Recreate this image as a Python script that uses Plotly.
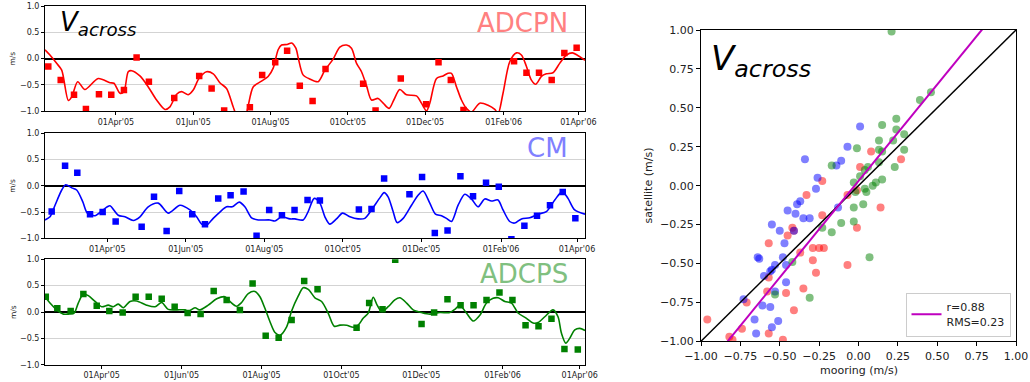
import pandas as pd
import plotly.graph_objects as go

# ---------------- data ----------------
# time in days since 2005-04-01
BASE = pd.Timestamp("2005-04-01")

adcpn_sat_days = [-53.4, -43.6, -33.1, -23.7, -13.4, -3.7, 6.3, 16.3, 26.0, 46.0, 65.7, 75.5, 85.4,
                  105.7, 115.4, 125.7, 135.1, 145.1, 155.2, 165.4, 195.1, 204.9, 224.8, 244.8, 254.6,
                  264.3, 274.3, 314.2, 324.0, 333.9, 343.9, 353.9, 363.6]
adcpn_sat_vals = [-0.15, -0.41, -0.69, -0.96, -0.68, -0.69, -0.60, 0.02, -0.44, -0.75, -0.33, -0.57, -0.99,
                  -0.93, -0.31, -0.07, 0.15, -0.52, -0.81, -0.20, -0.48, -0.99, -0.38, -0.87, -0.07,
                  -0.41, -0.98, -0.05, -0.27, -0.27, -0.41, 0.11, 0.21]
adcpn_moor_days = [-56.0, -52.1, -46.8, -42.8, -37.6, -34.9, -30.2, -24.5, -14.0, -4.7, -1.6, 3.2, 6.3,
                   9.7, 12.4, 18.9, 25.5, 32.1, 38.7, 42.6, 47.9, 51.8, 57.0, 61.0, 65.5, 71.5, 76.8,
                   82.0, 87.3, 92.5, 95.4, 99.4, 103.1, 108.3, 114.9, 120.1, 124.1, 128.0, 130.7, 135.1,
                   138.6, 142.0, 144.0, 147.7, 153.0, 159.6, 164.9, 171.4, 176.7, 182.0, 185.9, 189.9,
                   193.8, 197.8, 201.7, 206.9, 210.9, 215.6, 219.3, 224.0, 229.3, 237.2, 241.1, 245.1,
                   247.7, 253.0, 258.2, 262.1, 264.8, 268.8, 272.7, 276.6, 280.6, 287.1, 293.7, 299.0,
                   301.6, 305.5, 310.8, 316.1, 320.0, 324.0, 327.9, 331.3, 335.8, 339.7, 344.9, 350.2,
                   355.5, 360.3, 363.9, 370.2]
adcpn_moor_vals = [0.17, 0.07, -0.09, -0.22, -0.80, -0.73, -0.44, -0.59, -0.38, -0.46, -0.47, -0.66, -0.63,
                   -0.25, -0.23, -0.33, -0.54, -0.79, -0.97, -0.92, -0.68, -0.63, -0.69, -0.60, -0.38, -0.25, -0.29,
                   -0.46, -0.57, -0.92, -1.10, -1.20, -1.03, -0.54, -0.43, -0.34, -0.18, 0.17, 0.26, 0.27,
                   0.30, 0.20, 0.00, -0.31, -0.39, -0.44, -0.22, -0.01, 0.22, 0.26, 0.20, -0.09,
                   -0.25, -0.52, -0.79, -0.76, -0.85, -0.95, -0.79, -0.59, -0.69, -0.71, -0.85, -1.00,
                   -0.85, -0.38, -0.33, -0.28, -0.28, -0.54, -0.79, -0.95, -1.02, -0.85, -0.89, -0.97,
                   -1.05, -0.66, -0.06, 0.11, 0.07, -0.15, -0.41, -0.49, -0.34, -0.29, -0.27, -0.09,
                   0.07, 0.11, 0.07, -0.03]

cm_sat_days = [-43.2, -32.8, -23.3, -13.4, -3.6, 6.5, 26.7, 36.3, 46.1, 55.9, 66.0, 75.9, 86.2, 95.8,
               105.9, 116.0, 125.8, 135.7, 145.5, 155.6, 165.2, 195.5, 205.3, 215.1, 234.8, 244.6,
               254.5, 264.4, 274.4, 284.2, 294.3, 304.2, 314.0, 324.1, 333.9, 344.0, 353.9, 363.7]
cm_sat_vals = [-0.49, 0.38, 0.25, -0.54, -0.50, -0.68, -0.78, -0.21, -0.86, -0.10, -0.54, -0.73, -0.24, -0.18,
               -0.11, -0.95, -0.46, -0.56, -0.46, -0.27, -0.28, -0.45, -0.44, 0.14, -0.16, 0.17,
               -0.90, -0.85, 0.18, -0.20, 0.06, -0.02, -1.02, -0.76, -0.57, -0.37, -0.12, -0.62]
cm_moor_days = [-48.4, -44.5, -40.6, -35.4, -32.3, -27.6, -23.8, -19.1, -15.5, -9.6,
                -4.3, 0.0, 2.1, 8.5, 13.7, 20.2, 25.4, 31.8, 39.6, 47.4,
                56.5, 64.2, 69.4, 73.3, 77.2, 82.3, 87.5, 92.7, 97.1, 102.5,
                106.9, 112.1, 117.3, 126.4, 130.2, 135.4, 141.9, 145.8, 152.2, 156.1,
                160.8, 165.2, 169.1, 172.9, 178.1, 182.8, 188.5, 194.9, 200.1, 205.3,
                211.8, 215.1, 218.2, 222.1, 225.2, 229.9, 236.4, 241.5, 245.4, 250.6,
                255.0, 259.7, 263.6, 267.5, 272.6, 277.8, 283.0, 288.1, 293.3, 298.5,
                303.6, 307.5, 312.7, 316.6, 321.8, 328.3, 334.7, 341.2, 347.7, 353.6,
                358.0, 363.2, 371.2]
cm_moor_vals = [-0.65, -0.59, -0.37, -0.08, 0.02, -0.04, -0.08, -0.30, -0.52, -0.57,
                -0.48, -0.40, -0.38, -0.56, -0.59, -0.66, -0.59, -0.40, -0.33, -0.52,
                -0.37, -0.46, -0.59, -0.73, -0.75, -0.62, -0.50, -0.40, -0.40, -0.31,
                -0.40, -0.61, -0.65, -0.65, -0.67, -0.59, -0.63, -0.63, -0.65, -0.49,
                -0.24, -0.33, -0.59, -0.73, -0.63, -0.52, -0.59, -0.63, -0.62, -0.46,
                -0.23, -0.13, -0.21, -0.49, -0.70, -0.62, -0.37, -0.18, -0.10, -0.33,
                -0.54, -0.57, -0.62, -0.68, -0.37, -0.16, -0.25, -0.40, -0.25, -0.29,
                -0.27, -0.46, -0.68, -0.71, -0.63, -0.61, -0.54, -0.49, -0.27, -0.11,
                -0.24, -0.46, -0.54]

adcps_sat_days = [-42.7, -33.9, -23.7, -14.0, -3.8, 5.8, 16.0, 25.9, 35.9, 45.8,
                  55.7, 65.6, 75.5, 85.5, 95.4, 105.5, 115.2, 125.2, 135.1, 145.0,
                  154.6, 164.8, 194.6, 204.2, 214.4, 224.1, 244.2, 253.8, 264.0, 274.0,
                  283.9, 293.8, 303.7, 313.6, 323.6, 333.5, 343.4, 353.3, 363.5]
adcps_sat_vals = [0.29, 0.07, 0.02, 0.34, 0.12, 0.02, -0.01, 0.29, 0.29, 0.25,
                  0.10, -0.02, -0.04, 0.40, 0.23, 0.04, 0.54, -0.45, -0.49, -0.15,
                  0.59, 0.43, -0.30, 0.17, 0.05, 0.99, -0.23, -0.01, 0.24, 0.13,
                  0.13, 0.23, 0.37, 0.23, -0.25, -0.27, -0.13, -0.70, -0.71]
adcps_moor_days = [-43.3, -39.5, -34.3, -29.3, -25.5, -21.1, -17.9, -14.0, -10.2, -5.1,
                   0.0, 5.0, 8.9, 12.7, 16.5, 21.6, 26.7, 34.3, 40.7, 45.8,
                   50.8, 57.2, 63.6, 66.1, 71.2, 75.0, 81.3, 87.8, 94.1, 97.9,
                   103.0, 106.8, 111.9, 117.0, 120.8, 124.6, 128.4, 132.3, 136.1, 141.2,
                   145.0, 150.0, 153.8, 157.7, 162.8, 167.9, 172.9, 177.5, 181.9, 187.0,
                   192.0, 195.8, 199.6, 203.5, 207.3, 210.3, 213.7, 218.7, 223.8, 227.6,
                   232.8, 237.8, 244.2, 250.5, 258.2, 265.8, 269.6, 273.4, 278.5, 283.6,
                   288.7, 293.8, 298.8, 302.7, 307.8, 312.9, 317.9, 324.3, 329.4, 333.2,
                   338.3, 344.6, 348.4, 351.0, 354.3, 357.3, 361.2, 365.0, 369.0]
adcps_moor_vals = [0.29, 0.17, 0.04, -0.04, -0.04, -0.02, 0.17, 0.34, 0.31, 0.20,
                   0.10, 0.13, 0.10, 0.15, 0.08, 0.20, 0.21, 0.13, 0.10, 0.18,
                   0.05, 0.04, 0.04, 0.01, 0.08, 0.04, 0.13, 0.25, 0.29, 0.20,
                   0.11, 0.18, 0.35, 0.39, 0.29, 0.07, -0.18, -0.39, -0.44, -0.28,
                   0.02, 0.30, 0.46, 0.43, 0.27, 0.20, -0.02, -0.27, -0.25, -0.25,
                   -0.29, -0.25, -0.12, -0.02, 0.28, 0.13, 0.01, 0.10, 0.23, 0.27,
                   0.17, 0.04, -0.01, -0.04, -0.01, -0.01, 0.05, 0.13, -0.02, -0.17,
                   -0.06, 0.17, 0.26, 0.27, 0.20, 0.17, -0.02, -0.12, -0.21, -0.20,
                   -0.09, 0.04, -0.09, -0.40, -0.59, -0.50, -0.34, -0.31, -0.35]

# scatter: mooring vs satellite
sc_adcpn_moor = [0.08, 0.27, 0.01, -0.23, -0.33, -0.01, 0.14, -0.07, -0.23, -0.42, -0.01, -0.41, -0.45,
                 -0.57, -0.29, -0.25, -0.22, -0.37, -0.29, -0.27, -0.07, -0.57, -0.46, -0.35, -0.58,
                 -0.71, -0.41, -0.74, -0.96, -0.57, -0.82, -0.80, -0.48]
sc_adcpn_sat = [0.22, 0.17, 0.12, 0.03, -0.06, -0.03, -0.14, -0.06, -0.19, -0.27, -0.27, -0.29, -0.32,
                -0.37, -0.40, -0.40, -0.40, -0.43, -0.48, -0.56, -0.51, -0.59, -0.69, -0.66, -0.68,
                -0.75, -0.80, -0.92, -0.86, -0.95, -0.97, -0.99, -0.99]
sc_cm_moor = [0.01, -0.07, -0.34, -0.11, -0.14, -0.26, -0.27, -0.37, -0.39, -0.45,
              -0.40, -0.35, -0.31, -0.13, -0.55, -0.50, -0.41, -0.47, -0.64, -0.63,
              -0.48, -0.46, -0.53, -0.55, -0.56, -0.60, -0.46, -0.53, -0.73, -0.61,
              -0.56, -0.66, -0.51, -0.55, -0.65]
sc_cm_sat = [0.38, 0.25, 0.17, 0.16, 0.13, 0.05, -0.02, -0.10, -0.12, -0.16,
             -0.18, -0.21, -0.21, -0.14, -0.25, -0.29, -0.29, -0.37, -0.46, -0.47,
             -0.46, -0.51, -0.51, -0.54, -0.55, -0.58, -0.62, -0.68, -0.73, -0.77,
             -0.78, -0.86, -0.87, -0.91, -0.95]
sc_adcps_moor = [0.21, 0.39, 0.46, 0.15, 0.24, 0.24, 0.29, 0.13, 0.22, -0.01,
                 0.13, 0.15, 0.29, 0.13, -0.17, 0.06, 0.04, 0.23, 0.01, -0.03,
                 0.15, 0.11, 0.09, 0.04, -0.03, 0.03, -0.11, -0.03, -0.23, -0.17,
                 0.07, -0.42, -0.53, -0.31, 0.05, -0.02]
sc_adcps_sat = [0.99, 0.55, 0.60, 0.39, 0.43, 0.36, 0.33, 0.29, 0.29, 0.24,
                0.23, 0.22, 0.23, 0.15, 0.13, 0.12, 0.10, 0.12, 0.06, 0.02,
                0.04, 0.02, 0.00, -0.02, -0.14, -0.12, -0.24, -0.23, -0.27, -0.30,
                -0.46, -0.49, -0.70, -0.72, -0.04, -0.04]

fit_slope = 1.24
fit_intercept = 0.03
fit_label = "r=0.88<br>RMS=0.23"

tick_dates = ["2005-04-01", "2005-06-01", "2005-08-01", "2005-10-01", "2005-12-01", "2006-02-01", "2006-04-01"]
tick_labels = ["01Apr'05", "01Jun'05", "01Aug'05", "01Oct'05", "01Dec'05", "01Feb'06", "01Apr'06"]
y_ticks = [-1.0, -0.5, 0.0, 0.5, 1.0]
y_labels = ["\u22121.0", "\u22120.5", "0.0", "0.5", "1.0"]
sc_ticks = [-1.0, -0.75, -0.5, -0.25, 0.0, 0.25, 0.5, 0.75, 1.0]
sc_labels = ["\u22121.00", "\u22120.75", "\u22120.50", "\u22120.25", "0.00", "0.25", "0.50", "0.75", "1.00"]


def to_dates(days):
    return [BASE + pd.Timedelta(days=d) for d in days]


W, H = 1030, 382
FONT = "DejaVu Sans"

fig = go.Figure()

panels = [
    ("", adcpn_moor_days, adcpn_moor_vals, adcpn_sat_days, adcpn_sat_vals, "#ff0000"),
    ("2", cm_moor_days, cm_moor_vals, cm_sat_days, cm_sat_vals, "#0000ff"),
    ("3", adcps_moor_days, adcps_moor_vals, adcps_sat_days, adcps_sat_vals, "#008000"),
]
for sfx, ld, lv, md, mv, col in panels:
    fig.add_trace(go.Scatter(x=to_dates(ld), y=lv, mode="lines", line=dict(color=col, width=1.6, shape="spline", smoothing=0.8),
                             xaxis="x" + sfx, yaxis="y" + sfx, showlegend=False, hoverinfo="skip"))
    fig.add_trace(go.Scatter(x=to_dates(md), y=mv, mode="markers", marker=dict(color=col, symbol="square", size=6.5),
                             xaxis="x" + sfx, yaxis="y" + sfx, showlegend=False))

# scatter panel
for mx, my, col in [(sc_adcpn_moor, sc_adcpn_sat, "#ff0000"), (sc_cm_moor, sc_cm_sat, "#0000ff"),
                    (sc_adcps_moor, sc_adcps_sat, "#008000")]:
    fig.add_trace(go.Scatter(x=mx, y=my, mode="markers", marker=dict(color=col, size=8, opacity=0.5),
                             xaxis="x4", yaxis="y4", showlegend=False))
fig.add_trace(go.Scatter(x=[-1, 1], y=[-1, 1], mode="lines", line=dict(color="black", width=1.5),
                         xaxis="x4", yaxis="y4", showlegend=False))
fx = [-1.2, 1.2]
fig.add_trace(go.Scatter(x=fx, y=[fit_slope * v + fit_intercept for v in fx], mode="lines",
                         line=dict(color="#bf00bf", width=2), name=fit_label,
                         xaxis="x4", yaxis="y4", showlegend=True))


def py(p):
    return 1 - p / H


def px(p):
    return p / W


xl, xr = px(45), px(585)
ranges = {
    "": (-56.0, 370.2, 6.3, 111.0),
    "2": (-48.4, 371.2, 133.3, 238.3),
    "3": (-43.3, 369.0, 259.3, 364.7),
}
layout = dict(width=W, height=H, margin=dict(l=0, r=0, t=0, b=0, pad=0), autosize=False,
              plot_bgcolor="white", paper_bgcolor="white", template="none",
              font=dict(family=FONT, color="#222222"))
for sfx, (d0, d1, ytop, ybot) in ranges.items():
    layout["xaxis" + sfx] = dict(type="date", domain=[xl, xr], anchor="y" + sfx, automargin=False,
                                 range=[BASE + pd.Timedelta(days=d0), BASE + pd.Timedelta(days=d1)],
                                 tickvals=tick_dates, ticktext=tick_labels, tickfont=dict(size=8),
                                 showgrid=False, zeroline=False, showline=True, mirror=True,
                                 linecolor="black", linewidth=1, ticks="outside", ticklen=3, tickcolor="black")
    layout["yaxis" + sfx] = dict(domain=[py(ybot), py(ytop)], anchor="x" + sfx, range=[-1, 1], automargin=False,
                                 tickvals=y_ticks, ticktext=y_labels, tickfont=dict(size=8),
                                 showgrid=True, gridcolor="#d3d3d3", gridwidth=1.3,
                                 zeroline=True, zerolinecolor="black", zerolinewidth=1.5,
                                 showline=True, mirror=True, linecolor="black", linewidth=1,
                                 ticks="outside", ticklen=3, tickcolor="black")
layout["xaxis4"] = dict(domain=[px(701), px(1016)], anchor="y4", range=[-1, 1], tickvals=sc_ticks, ticktext=sc_labels,
                        tickfont=dict(size=11), showgrid=False, zeroline=False, showline=True, mirror=True,
                        automargin=False,
                        linecolor="black", linewidth=1, ticks="outside", ticklen=4, tickcolor="black")
layout["yaxis4"] = dict(domain=[py(341.3), py(30)], anchor="x4", range=[-1, 1], tickvals=sc_ticks, ticktext=sc_labels,
                        tickfont=dict(size=11), showgrid=False, zeroline=False, showline=True, mirror=True,
                        automargin=False,
                        linecolor="black", linewidth=1, ticks="outside", ticklen=4, tickcolor="black")
layout["legend"] = dict(x=px(1010.5), y=py(336.5), xanchor="right", yanchor="bottom", bgcolor="rgba(255,255,255,0.8)",
                        bordercolor="#cccccc", borderwidth=1, font=dict(size=11, color="#222222"),
                        tracegroupgap=0, itemwidth=30)

ann = []
vac = "<i>V</i><sub><i>across</i></sub>"
ann.append(dict(text=vac, x=px(58), y=py(24), xref="paper", yref="paper", xanchor="left", yanchor="middle",
                showarrow=False, font=dict(size=26, color="black")))
ann.append(dict(text=vac, x=px(709), y=py(60), xref="paper", yref="paper", xanchor="left", yanchor="middle",
                showarrow=False, font=dict(size=34, color="black")))
for txt, col, ymid in [("ADCPN", "#ff8080", 22.5), ("CM", "#8080ff", 148.3), ("ADCPS", "#80c080", 274)]:
    ann.append(dict(text=txt, x=px(570), y=py(ymid), xref="paper", yref="paper", xanchor="right", yanchor="middle",
                    showarrow=False, font=dict(size=26, color=col)))
for ymid in [58.6, 185.8, 312.0]:
    ann.append(dict(text="m/s", x=px(13), y=py(ymid), xref="paper", yref="paper", xanchor="center", yanchor="middle",
                    textangle=-90, showarrow=False, font=dict(size=7.5)))
ann.append(dict(text="mooring (m/s)", x=px(858.5), y=py(370), xref="paper", yref="paper", xanchor="center",
                yanchor="middle", showarrow=False, font=dict(size=11)))
ann.append(dict(text="satellite (m/s)", x=px(649), y=py(185.6), xref="paper", yref="paper", xanchor="center",
                yanchor="middle", textangle=-90, showarrow=False, font=dict(size=11)))
layout["annotations"] = ann

fig.update_layout(**layout)
fig.write_html("out.html")
